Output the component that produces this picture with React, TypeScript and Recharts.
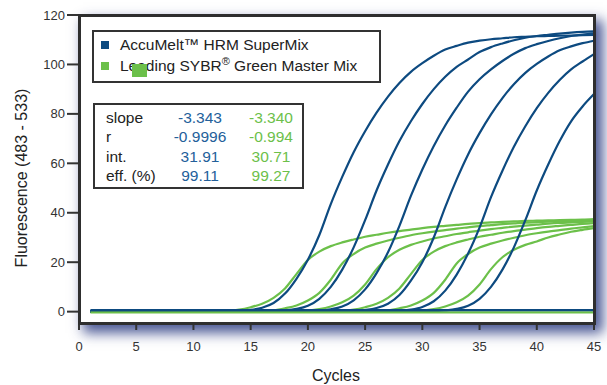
import { LineChart, Line, XAxis, YAxis, Legend } from "recharts";

const cycles = [
  1, 2, 3, 4, 5, 6, 7, 8, 9, 10,
  11, 12, 13, 14, 15, 16, 17, 18, 19, 20,
  21, 22, 23, 24, 25, 26, 27, 28, 29, 30,
  31, 32, 33, 34, 35, 36, 37, 38, 39, 40,
  41, 42, 43, 44, 45,
];

// AccuMelt HRM SuperMix dilution series
const accuMelt1 = [
  0, 0, 0, 0, 0, 0, 0, 0, 0, 0,
  0, 0, 0.1, 0.3, 0.7, 1.6, 3.5, 7.3, 13.3, 21,
  31, 43.5, 54.5, 64.5, 73, 80.5, 87, 92.5, 97, 100.5,
  103.5, 106, 107.5, 108.8, 109.6, 110.2, 110.6, 111, 111.2, 111.4,
  111.5, 111.6, 111.7, 111.8, 111.9,
];
const accuMelt2 = [
  0, 0, 0, 0, 0, 0, 0, 0, 0, 0,
  0, 0, 0, 0, 0, 0, 0.2, 0.5, 1.1, 2.4,
  5.2, 10, 17, 26, 37, 49, 59.5, 69, 77, 84,
  90, 95, 99, 102, 105, 107, 108.5, 109.8, 110.8, 111.5,
  112, 112.5, 112.9, 113.2, 113.4,
];
const accuMelt3 = [
  0, 0, 0, 0, 0, 0, 0, 0, 0, 0,
  0, 0, 0, 0, 0, 0, 0, 0, 0, 0.15,
  0.4, 0.95, 2.1, 4.6, 9, 15.6, 24, 34.7, 46.8, 57.5,
  67, 75.3, 82.5, 89, 94, 98, 101.4, 104.3, 106.6, 108.2,
  109.5, 110.6, 111.5, 112.1, 112.6,
];
const accuMelt4 = [
  0, 0, 0, 0, 0, 0, 0, 0, 0, 0,
  0, 0, 0, 0, 0, 0, 0, 0, 0, 0,
  0, 0, 0.1, 0.25, 0.65, 1.45, 3.2, 6.7, 12.5, 20,
  30, 42.3, 53.5, 63.6, 72.2, 79.8, 86.4, 92, 96.6, 100.2,
  103.2, 105.7, 107.3, 108.6, 109.6,
];
const accuMelt5 = [
  0, 0, 0, 0, 0, 0, 0, 0, 0, 0,
  0, 0, 0, 0, 0, 0, 0, 0, 0, 0,
  0, 0, 0, 0, 0, 0, 0.15, 0.4, 0.85, 1.9,
  4.2, 8.5, 15, 23.5, 34, 46.3, 57, 66.7, 75, 82.3,
  88.5, 93.7, 98, 101.2, 104.2,
];
const accuMelt6 = [
  0, 0, 0, 0, 0, 0, 0, 0, 0, 0,
  0, 0, 0, 0, 0, 0, 0, 0, 0, 0,
  0, 0, 0, 0, 0, 0, 0, 0, 0, 0,
  0.2, 0.5, 1.1, 2.4, 5.2, 10, 17, 26, 37, 49,
  59.5, 69, 77, 83, 88,
];
const accuMeltNtc = [
  0.6, 0.6, 0.6, 0.6, 0.6, 0.6, 0.6, 0.6, 0.6, 0.6,
  0.6, 0.6, 0.6, 0.6, 0.6, 0.6, 0.6, 0.6, 0.6, 0.6,
  0.6, 0.6, 0.6, 0.6, 0.6, 0.6, 0.6, 0.6, 0.6, 0.6,
  0.6, 0.6, 0.6, 0.6, 0.6, 0.6, 0.6, 0.6, 0.6, 0.6,
  0.6, 0.6, 0.6, 0.6, 0.6,
];

// Leading SYBR Green Master Mix dilution series
const sybr1 = [
  0, 0, 0, 0, 0, 0, 0, 0, 0, 0,
  0, 0.1, 0.3, 0.8, 1.8, 3.2, 5.6, 9.4, 15.2, 20.9,
  24.3, 26.5, 28, 29.2, 30.3, 31.1, 31.9, 32.6, 33.2, 33.8,
  34.3, 34.7, 35.1, 35.5, 35.8, 36.1, 36.3, 36.5, 36.7, 36.8,
  36.9, 37, 37.1, 37.2, 37.4,
];
const sybr2 = [
  0, 0, 0, 0, 0, 0, 0, 0, 0, 0,
  0, 0, 0, 0, 0.05, 0.2, 0.5, 1.35, 2.5, 4.5,
  7.6, 12.9, 19.5, 23.3, 25.9, 27.5, 28.8, 29.9, 30.9, 31.7,
  32.4, 33, 33.6, 34.1, 34.6, 35, 35.4, 35.7, 36, 36.2,
  36.4, 36.6, 36.7, 36.8, 36.9,
];
const sybr3 = [
  0, 0, 0, 0, 0, 0, 0, 0, 0, 0,
  0, 0, 0, 0, 0, 0, 0, 0, 0.15, 0.4,
  1, 2.1, 3.8, 6.5, 11, 17.2, 22, 25, 27, 28.4,
  29.6, 30.5, 31.4, 32.1, 32.8, 33.4, 33.9, 34.4, 34.8, 35.2,
  35.6, 35.9, 36.1, 36.3, 36.5,
];
const sybr4 = [
  0, 0, 0, 0, 0, 0, 0, 0, 0, 0,
  0, 0, 0, 0, 0, 0, 0, 0, 0, 0,
  0, 0.1, 0.3, 0.8, 1.8, 3.2, 5.6, 9.4, 15.2, 20.9,
  24.3, 26.5, 28, 29.2, 30.3, 31.1, 31.9, 32.6, 33.2, 33.8,
  34.3, 34.7, 35.1, 35.5, 35.8,
];
const sybr5 = [
  0, 0, 0, 0, 0, 0, 0, 0, 0, 0,
  0, 0, 0, 0, 0, 0, 0, 0, 0, 0,
  0, 0, 0, 0, 0.05, 0.2, 0.5, 1.35, 2.5, 4.5,
  7.6, 12.9, 19.5, 23.3, 25.9, 27.5, 28.8, 29.9, 30.9, 31.7,
  32.4, 33, 33.6, 34.1, 34.6,
];
const sybr6 = [
  0, 0, 0, 0, 0, 0, 0, 0, 0, 0,
  0, 0, 0, 0, 0, 0, 0, 0, 0, 0,
  0, 0, 0, 0, 0, 0, 0, 0, 0.15, 0.4,
  1, 2.1, 3.8, 6.5, 11, 17.2, 22, 25, 27, 28.4,
  30, 31.2, 32.3, 33.1, 33.8,
];
const sybrNtc = [
  -0.3, -0.3, -0.3, -0.3, -0.3, -0.3, -0.3, -0.3, -0.3, -0.3,
  -0.3, -0.3, -0.3, -0.3, -0.3, -0.3, -0.3, -0.3, -0.3, -0.3,
  -0.3, -0.3, -0.3, -0.3, -0.3, -0.3, -0.3, -0.3, -0.3, -0.3,
  -0.3, -0.3, -0.3, -0.3, -0.3, -0.3, -0.3, -0.3, -0.3, -0.3,
  -0.3, -0.3, -0.3, -0.3, -0.3,
];

const xTicks = [0, 5, 10, 15, 20, 25, 30, 35, 40, 45];
const yTicks = [0, 20, 40, 60, 80, 100, 120];

const statLabels = ["slope", "r", "int.", "eff. (%)"];
const accuMeltStats = ["-3.343", "-0.9996", "31.91", "99.11"];
const sybrStats = ["-3.340", "-0.994", "30.71", "99.27"];

const FONT = '"Liberation Sans", Arial, Helvetica, sans-serif';
const BLUE = "#0d4a80";
const GREEN = "#6cc04a";
const BLUE_TEXT = "#23609a";

const accuRuns = [accuMelt1, accuMelt2, accuMelt3, accuMelt4, accuMelt5, accuMelt6];
const sybrRuns = [sybr1, sybr2, sybr3, sybr4, sybr5, sybr6];

const rows = cycles.map((cycle, i) => {
  const row: Record<string, number> = { cycle, aNtc: accuMeltNtc[i], sNtc: sybrNtc[i] };
  accuRuns.forEach((run, k) => (row["a" + k] = run[i]));
  sybrRuns.forEach((run, k) => (row["s" + k] = run[i]));
  return row;
});

function LegendBox() {
  return (
    <div
      style={{
        position: "relative",
        width: 289,
        height: 53,
        boxSizing: "border-box",
        border: "2px solid #333",
        background: "#fff",
        fontFamily: FONT,
        fontSize: 15.5,
        color: "#222",
        lineHeight: "18px",
        whiteSpace: "nowrap",
      }}
    >
      <div style={{ position: "absolute", left: 7, top: 9, width: 8, height: 8, background: BLUE }} />
      <div style={{ position: "absolute", left: 26, top: 4 }}>AccuMelt™ HRM SuperMix</div>
      <div style={{ position: "absolute", left: 7, top: 30, width: 8, height: 8, background: GREEN }} />
      <div style={{ position: "absolute", left: 26, top: 25 }}>
        Leading SYBR<sup style={{ fontSize: 11, lineHeight: 0 }}>®</sup> Green Master Mix
      </div>
      <div style={{ position: "absolute", left: 38, top: 32, width: 15, height: 13, background: GREEN }} />
    </div>
  );
}

function StatsBox() {
  const rowTops = [4, 23, 42.5, 62];
  return (
    <div
      style={{
        position: "absolute",
        left: 93,
        top: 103,
        width: 211,
        height: 86,
        boxSizing: "border-box",
        border: "2px solid #333",
        background: "#fff",
        fontFamily: FONT,
        fontSize: 15.5,
        lineHeight: "18px",
        whiteSpace: "nowrap",
      }}
    >
      {statLabels.map((label, i) => (
        <div key={label}>
          <div style={{ position: "absolute", left: 11, top: rowTops[i], color: "#222" }}>{label}</div>
          <div style={{ position: "absolute", left: 65, width: 80, textAlign: "center", top: rowTops[i], color: BLUE_TEXT }}>
            {accuMeltStats[i]}
          </div>
          <div style={{ position: "absolute", left: 136, width: 80, textAlign: "center", top: rowTops[i], color: GREEN }}>
            {sybrStats[i]}
          </div>
        </div>
      ))}
    </div>
  );
}

const frame = { position: "absolute" as const, left: 78, top: 14, width: 518, height: 311, boxSizing: "border-box" as const };

export default function App() {
  return (
    <div style={{ position: "absolute", left: 0, top: 0, width: 607, height: 385, background: "#fff", overflow: "hidden" }}>
      <div style={{ ...frame, background: "#fff", boxShadow: "6px 7px 12px 1px rgba(45, 60, 130, 0.85)" }} />
      <LineChart width={607} height={385} data={rows} margin={{ top: 15, right: 13, bottom: 0, left: 0 }}>
        <XAxis
          type="number"
          dataKey="cycle"
          domain={[0, 45]}
          ticks={xTicks}
          height={61}
          axisLine={false}
          tickSize={6}
          tickMargin={12}
          tickLine={{ stroke: "#333", strokeWidth: 2 }}
          tick={{ fill: "#333", fontSize: 13, fontFamily: FONT }}
          label={() => (
            <text x={336} y={381} textAnchor="middle" fill="#222" fontSize={16} fontFamily={FONT}>
              Cycles
            </text>
          )}
        />
        <YAxis
          type="number"
          domain={[-5, 120]}
          ticks={yTicks}
          width={79}
          axisLine={false}
          tickSize={12}
          tickMargin={2}
          tickLine={{ stroke: "#333", strokeWidth: 2 }}
          tick={{ fill: "#333", fontSize: 13, fontFamily: FONT }}
          label={() => (
            <text
              x={27}
              y={178}
              transform="rotate(-90 27 178)"
              textAnchor="middle"
              fill="#222"
              fontSize={16}
              fontFamily={FONT}
            >
              Fluorescence (483 - 533)
            </text>
          )}
        />
        <Legend
          layout="horizontal"
          verticalAlign="middle"
          align="center"
          content={() => <LegendBox />}
          wrapperStyle={{ left: 92, top: 30, width: 289, height: 53 }}
        />
        {sybrRuns.map((_, k) => (
          <Line key={"s" + k} type="monotone" dataKey={"s" + k} stroke={GREEN} strokeWidth={2.2} dot={false} activeDot={false} isAnimationActive={false} />
        ))}
        {accuRuns.map((_, k) => (
          <Line key={"a" + k} type="monotone" dataKey={"a" + k} stroke={BLUE} strokeWidth={2.2} dot={false} activeDot={false} isAnimationActive={false} />
        ))}
        <Line type="monotone" dataKey="sNtc" stroke={GREEN} strokeWidth={2.2} dot={false} activeDot={false} isAnimationActive={false} />
        <Line type="monotone" dataKey="aNtc" stroke={BLUE} strokeWidth={2.2} dot={false} activeDot={false} isAnimationActive={false} />
      </LineChart>
      <div style={{ ...frame, border: "3px solid #2e2e2e", pointerEvents: "none" }} />
      <StatsBox />
    </div>
  );
}
